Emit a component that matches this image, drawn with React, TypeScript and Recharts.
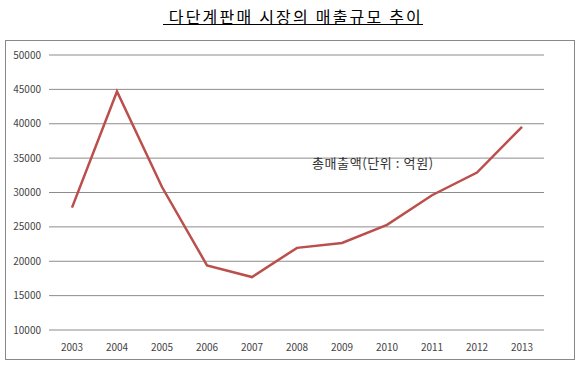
import { LineChart, Line, XAxis, YAxis, CartesianGrid } from "recharts";

const years = ["2003", "2004", "2005", "2006", "2007", "2008", "2009", "2010", "2011", "2012", "2013"];
const sales = [27800, 44700, 30800, 19400, 17700, 21950, 22650, 25300, 29600, 32900, 39550];
const yTicks = [10000, 15000, 20000, 25000, 30000, 35000, 40000, 45000, 50000];

const seriesName = "총매출액(단위 : 억원)";
const title = "다단계판매 시장의 매출규모 추이";

const data = years.map((year, i) => ({ year, sales: sales[i] }));

const font = "'Noto Sans CJK KR', 'Noto Sans', sans-serif";

export default function App() {
  return (
    <div
      style={{
        position: "fixed",
        left: 0,
        top: 0,
        width: 580,
        height: 366,
        background: "#fff",
      }}
    >
      {/* underlined title */}
      <div
        style={{
          position: "absolute",
          left: 163,
          top: 6,
          fontFamily: font,
          fontSize: 16,
          letterSpacing: 2.2,
          lineHeight: "20px",
          color: "#000",
          textDecoration: "underline",
          whiteSpace: "pre",
        }}
      >
        {" " + title}
      </div>

      <div
        style={{
          position: "absolute",
          left: 5,
          top: 40,
          width: 568,
          height: 318,
          border: "1px solid #888",
        }}
      >
        <LineChart
          width={568}
          height={318}
          data={data}
          margin={{ top: 14, right: 30, bottom: 0, left: 0 }}
        >
          <CartesianGrid vertical={false} stroke="#8c8c8c" strokeWidth={1} />
          <XAxis
            dataKey="year"
            axisLine={false}
            tickLine={false}
            tickSize={0}
            tickMargin={14}
            height={29}
            padding={{ left: 23, right: 22 }}
            tick={{ fontSize: 10, fill: "#444", fontFamily: font }}
          />
          <YAxis
            domain={[10000, 50000]}
            ticks={yTicks}
            axisLine={false}
            tickLine={false}
            tickSize={0}
            tickMargin={8}
            width={43}
            tick={{ fontSize: 10, fill: "#444", fontFamily: font }}
          />
          <Line
            type="linear"
            dataKey="sales"
            name={seriesName}
            stroke="#bb4f4c"
            strokeWidth={2.5}
            dot={false}
            isAnimationActive={false}
          />
        </LineChart>

        {/* series legend placed inside the plot like the original */}
        <div
          style={{
            position: "absolute",
            left: 306,
            top: 112,
            fontFamily: font,
            fontSize: 13,
            letterSpacing: 0.6,
            color: "#333",
            whiteSpace: "nowrap",
          }}
        >
          {seriesName}
        </div>
      </div>
    </div>
  );
}
